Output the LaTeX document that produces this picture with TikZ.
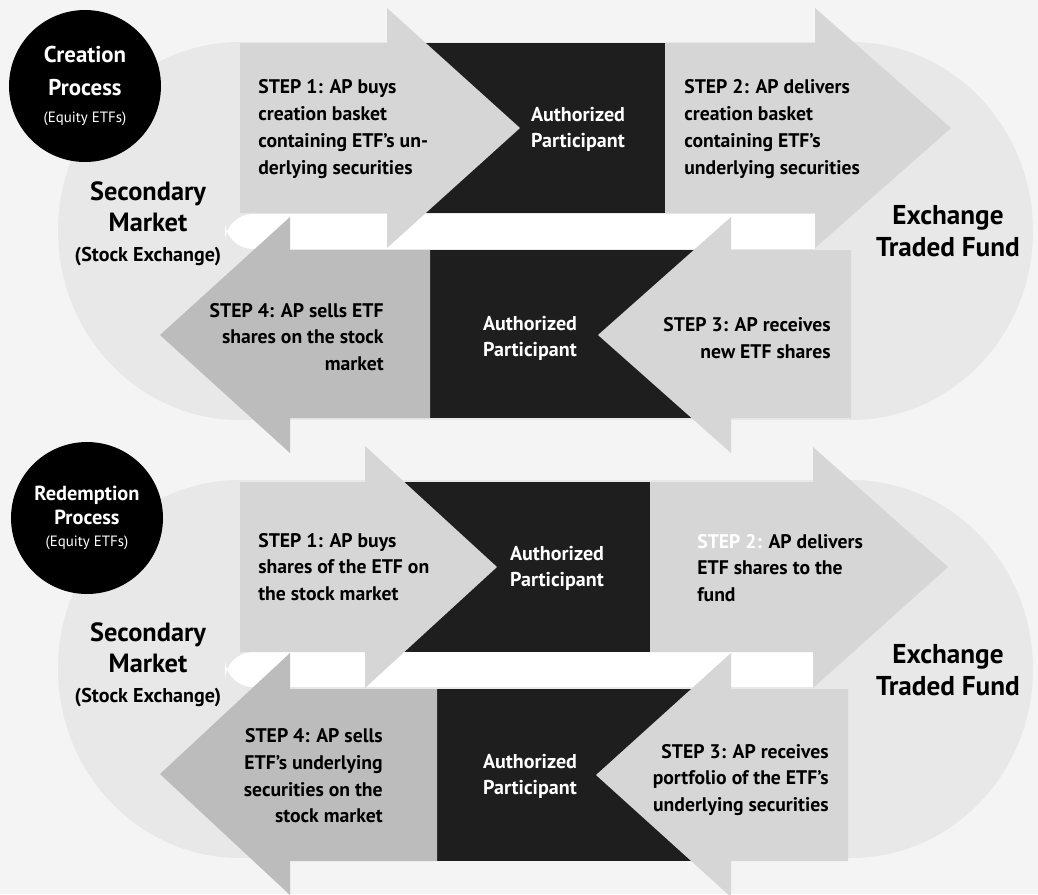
\documentclass[tikz,border=0pt]{standalone}
\usepackage{fontspec}
\setmainfont{PT Sans}
\usetikzlibrary{positioning}

\definecolor{paper}{HTML}{F4F4F4}
\definecolor{ovalgray}{HTML}{E8E8E8}
\definecolor{stepgray}{HTML}{D6D6D6}
\definecolor{sellgray}{HTML}{BCBCBC}
\definecolor{apblack}{HTML}{1E1E1E}

\tikzset{
  steptext/.style={font=\bfseries\fontsize{11.2}{15.2}\selectfont, inner sep=0pt},
  aptext/.style={font=\bfseries\fontsize{11.4}{14.8}\selectfont, text=white, align=center, inner sep=0pt},
  placetext/.style={font=\bfseries\fontsize{15}{17.5}\selectfont, align=center, inner sep=0pt},
  fundtext/.style={font=\bfseries\fontsize{15.5}{18.5}\selectfont, align=center, inner sep=0pt},
  procdot/.style={circle, fill=black, minimum size=3.04cm, inner sep=0pt, text=white, align=center},
  lightarrow/.style={fill=stepgray},
  darkarrow/.style={fill=sellgray},
  apbox/.style={fill=apblack}
}

\begin{document}
\begin{tikzpicture}[x=0.02cm, y=-0.02cm]
\useasboundingbox (0,0) rectangle (1038,894);
% background
\fill[paper] (0,0) rectangle (1038,894);

% rounded fields behind both processes
\foreach \dy in {0,438} {
  \fill[ovalgray] (240,231+\dy) ellipse [x radius=182, y radius=189];
  \fill[ovalgray] (851,231+\dy) ellipse [x radius=182, y radius=189];
  \fill[ovalgray] (240,42+\dy) rectangle (851,420+\dy);
  \fill[white, rounded corners=16] (225,214+\dy) rectangle (320,249+\dy);
  \fill[white] (290,214+\dy) rectangle (815,249+\dy);
}

% creation process
\fill[apbox] (420,43) rectangle (665,213);
\fill[apbox] (430,250) rectangle (700,418);
\fill[lightarrow] (240,43) -- (387,43) -- (387,8) -- (520,128) -- (387,248) -- (387,213) -- (240,213) -- cycle;
\fill[lightarrow] (665,43) -- (815,43) -- (815,8) -- (951,128) -- (815,248) -- (815,213) -- (665,213) -- cycle;
\fill[darkarrow] (430,250) -- (290,250) -- (290,217) -- (160,335) -- (290,453) -- (290,418) -- (430,418) -- cycle;
\fill[lightarrow] (851,250) -- (731,250) -- (731,217) -- (598,335) -- (731,453) -- (731,418) -- (851,418) -- cycle;

% redemption process
\fill[apbox] (400,482) rectangle (650,652);
\fill[apbox] (437,689) rectangle (700,861);
\fill[lightarrow] (240,482) -- (365,482) -- (365,446) -- (497,567) -- (365,688) -- (365,652) -- (240,652) -- cycle;
\fill[lightarrow] (650,482) -- (813,482) -- (813,447) -- (948,567) -- (813,688) -- (813,652) -- (650,652) -- cycle;
\fill[darkarrow] (437,689) -- (290,689) -- (290,653) -- (160,774) -- (290,895) -- (290,861) -- (437,861) -- cycle;
\fill[lightarrow] (848,689) -- (731,689) -- (731,653) -- (596,775) -- (731,897) -- (731,861) -- (848,861) -- cycle;

% labels, creation
\node (creation) [procdot, font=\bfseries\fontsize{13}{18.5}\selectfont] at (85,86) {Creation\\Process\\[-3pt]\mdseries\fontsize{8.5}{9}\selectfont (Equity ETFs)};
\node (marketc) [placetext] at (148,224) {Secondary\\Market\\\fontsize{11.4}{14.5}\selectfont (Stock Exchange)};
\node (fundc) [fundtext] at (948,231) {Exchange\\Traded Fund};
\node (buyc) [steptext, anchor=west, align=left] at (258,129) {STEP 1: AP buys\\creation basket\\containing ETF's un-\\derlying securities};
\node (apc) [aptext] at (578,129) {Authorized\\Participant};
\node (deliverc) [steptext, anchor=west, align=left] at (684,129) {STEP 2: AP delivers\\creation basket\\containing ETF's\\underlying securities};
\node (sellc) [steptext, anchor=east, align=right] at (384,337) {STEP 4: AP sells ETF\\shares on the stock\\market};
\node (apsc) [aptext] at (530,338) {Authorized\\Participant};
\node (receivec) [steptext, anchor=east, align=right] at (831,338) {STEP 3: AP receives\\new ETF shares};

% labels, redemption
\node (redemption) [procdot, font=\bfseries\fontsize{11.6}{13.5}\selectfont] at (87,518) {Redemption\\Process\\[-1pt]\mdseries\fontsize{8.5}{9}\selectfont (Equity ETFs)};
\node (marketr) [placetext] at (148,665) {Secondary\\Market\\\fontsize{11.4}{14.5}\selectfont (Stock Exchange)};
\node (fundr) [fundtext] at (948,670) {Exchange\\Traded Fund};
\node (buyr) [steptext, anchor=west, align=left] at (258,567) {STEP 1: AP buys\\shares of the ETF on\\the stock market};
\node (apr) [aptext] at (557,568) {Authorized\\Participant};
\node (deliverr) [steptext, anchor=west, align=left] at (697,568) {\textcolor{white}{STEP 2:} AP delivers\\ETF shares to the\\fund};
\node (sellr) [steptext, anchor=east, align=right] at (383,776) {STEP 4: AP sells\\ETF's underlying\\securities on the\\stock market};
\node (apsr) [aptext] at (530,776) {Authorized\\Participant};
\node (receiver) [steptext, anchor=east, align=right] at (829,780) {STEP 3: AP receives\\portfolio of the ETF's\\underlying securities};
\end{tikzpicture}
\end{document}
